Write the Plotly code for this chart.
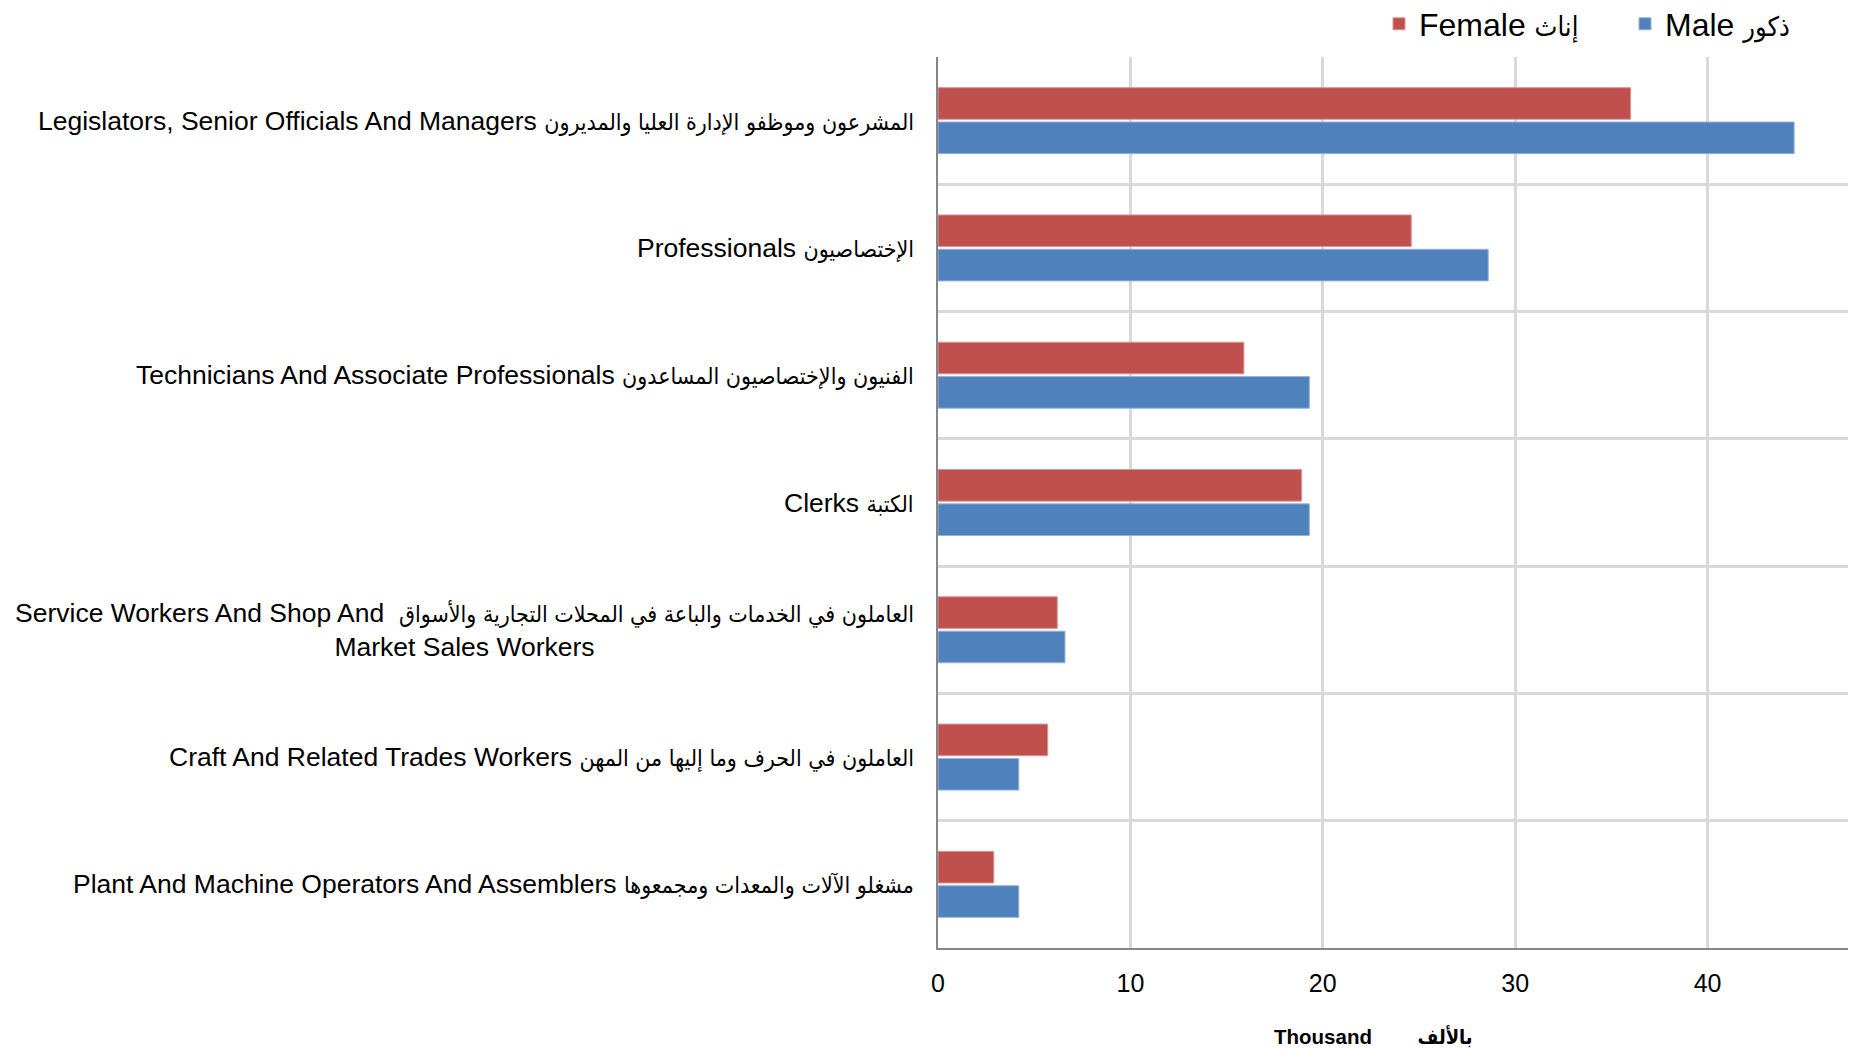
import plotly.graph_objects as go

english = [
    "Legislators, Senior Officials And Managers",
    "Professionals",
    "Technicians And Associate Professionals",
    "Clerks",
    "Service Workers And Shop And ",
    "Craft And Related Trades Workers",
    "Plant And Machine Operators And Assemblers",
]
arabic = [
    "المشرعون وموظفو الإدارة العليا والمديرون",
    "الإختصاصيون",
    "الفنيون والإختصاصيون المساعدون",
    "الكتبة",
    "العاملون في الخدمات والباعة في المحلات التجارية والأسواق",
    "العاملون في الحرف وما إليها من المهن",
    "مشغلو الآلات والمعدات ومجمعوها",
]
second_line = ["", "", "", "", "Market Sales Workers", "", ""]
female = [36.0, 24.6, 15.9, 18.9, 6.2, 5.7, 2.9]
male = [44.5, 28.6, 19.3, 19.3, 6.6, 4.2, 4.2]
x_ticks = [0, 10, 20, 30, 40]

FONT = "Liberation Sans, Arial, DejaVu Sans, sans-serif"
AR_STYLE = "font-family:'DejaVu Sans Condensed','DejaVu Sans';font-size:{}px"

# the page body has an 8px margin, so the figure starts at (8, 8)
W, H = 1842, 1042


def ar(text, size):
    return '<span style="' + AR_STYLE.format(size) + '">' + text + '</span>'


fig = go.Figure()
fig.add_trace(go.Bar(y=english, x=female, orientation="h", name="Female " + ar("إناث", 27),
                     marker=dict(color="#C0504D", line=dict(color="#D99694", width=1))))
fig.add_trace(go.Bar(y=english, x=male, orientation="h", name="Male " + ar("ذكور", 27),
                     marker=dict(color="#4F81BD", line=dict(color="#95B3D7", width=1))))

# category labels as annotations so the wrapped line is centred
for en, a, extra in zip(english, arabic, second_line):
    label = en + " " + ar(a, 23)
    if extra:
        label += "<br>" + extra
    fig.add_annotation(x=0, xref="paper", y=en, yref="y", text=label, showarrow=False,
                       xanchor="right", xshift=-22, align="center",
                       font=dict(family=FONT, size=26.5, color="#000000"))

fig.add_annotation(x=0.479, xref="paper", y=0, yref="paper", yanchor="middle", yshift=-88,
                   text="<b>Thousand" + "\u00a0" * 7 + " " + ar("بالألف", 20) + "</b>",
                   showarrow=False, font=dict(family=FONT, size=20.5, color="#000000"))

fig.update_layout(
    width=W, height=H,
    margin=dict(l=930, r=2, t=49, b=102, autoexpand=False),
    paper_bgcolor="white", plot_bgcolor="white",
    barmode="group", bargap=0.46, bargroupgap=0.08,
    font=dict(family=FONT, color="#000000"),
    showlegend=True,
    legend=dict(orientation="h", xref="container", x=1371 / W, xanchor="left",
                yref="container", y=1 - 16 / H, yanchor="middle",
                font=dict(family=FONT, size=32), traceorder="normal",
                entrywidth=201, bgcolor="rgba(0,0,0,0)"),
    xaxis=dict(range=[0, 47.3], tickvals=x_ticks, showgrid=True, gridcolor="#D9D9D9",
               gridwidth=3, zeroline=False, showline=True, linecolor="#868686", linewidth=2,
               ticks="", ticklabelstandoff=12, tickfont=dict(family=FONT, size=25),
               automargin=False),
    yaxis=dict(type="category", categoryarray=english, autorange="reversed",
               tickson="boundaries", showgrid=True, gridcolor="#D9D9D9", gridwidth=3,
               showticklabels=False, ticks="", zeroline=False, automargin=False,
               showline=True, linecolor="#868686", linewidth=2),
)

fig.write_html("out.html")
